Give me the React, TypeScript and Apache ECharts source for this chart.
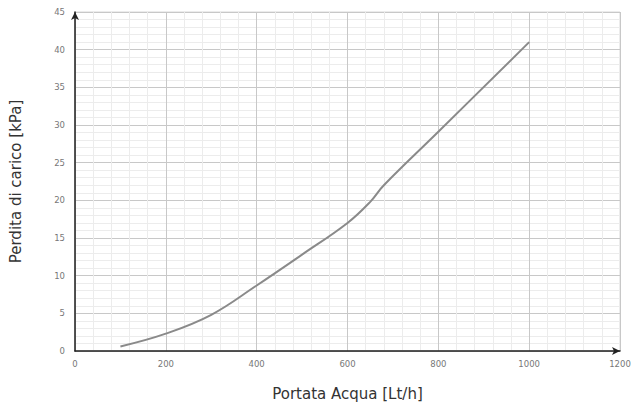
import React, { useEffect, useRef } from "react";
import * as echarts from "echarts";

const flowRates = [100, 200, 300, 400, 500, 600, 650, 680, 800, 1000];
const pressureDrops = [0.6, 2.3, 4.8, 8.7, 12.8, 17.0, 19.8, 22.0, 29.1, 41];
const xAxisName = "Portata Acqua [Lt/h]";
const yAxisName = "Perdita di carico [kPa]";

export default function App() {
  const ref = useRef<HTMLDivElement>(null);
  useEffect(() => {
    document.body.style.margin = "0";
    document.body.style.overflow = "hidden";
    if (!ref.current) return;
    const chart = echarts.init(ref.current, undefined, { renderer: "svg" });
    const data = flowRates.map((x, i) => [x, pressureDrops[i]]);
    chart.setOption({
      animation: false,
      backgroundColor: "#fff",
      grid: {
        left: 75, right: 13, top: 12, bottom: 54,
        outerBoundsMode: "none", containLabel: false,
        show: true, borderColor: "#d9d9d9", borderWidth: 1,
      },
      xAxis: {
        type: "value",
        min: 0,
        max: 1200,
        interval: 200,
        name: xAxisName,
        nameLocation: "middle",
        nameGap: 35,
        nameTextStyle: { fontFamily: "DejaVu Sans", fontSize: 15, color: "#333" },
        axisLine: { show: true, lineStyle: { color: "#222", width: 1.5 }, symbol: ["none", "arrow"], symbolSize: [6, 8] },
        axisTick: { show: false },
        axisLabel: { fontFamily: "DejaVu Sans", fontSize: 8.5, color: "#777", margin: 8, formatter: (v: number) => String(v) },
        splitLine: { show: true, lineStyle: { color: "#c8c8c8", width: 1 } },
        minorTick: { show: false, splitNumber: 5 },
        minorSplitLine: { show: true, lineStyle: { color: "#ececec", width: 1 } },
      },
      yAxis: {
        type: "value",
        min: 0,
        max: 45,
        interval: 5,
        name: yAxisName,
        nameLocation: "middle",
        nameGap: 52,
        nameRotate: 90,
        nameTextStyle: { fontFamily: "DejaVu Sans", fontSize: 15, color: "#333" },
        axisLine: { show: true, lineStyle: { color: "#222", width: 1.5 }, symbol: ["none", "arrow"], symbolSize: [6, 8] },
        axisTick: { show: false },
        axisLabel: { fontFamily: "DejaVu Sans", fontSize: 8.5, color: "#777", margin: 10, formatter: (v: number) => String(v) },
        splitLine: { show: true, lineStyle: { color: "#c8c8c8", width: 1 } },
        minorTick: { show: false, splitNumber: 5 },
        minorSplitLine: { show: true, lineStyle: { color: "#ececec", width: 1 } },
      },
      series: [
        {
          type: "line",
          data,
          smooth: 0.4,
          showSymbol: false,
          lineStyle: { color: "#8a8a8a", width: 2 },
        },
      ],
    });
    return () => chart.dispose();
  }, []);
  return <div ref={ref} style={{ width: 633, height: 405, position: "absolute", left: 0, top: 0 }} />;
}
